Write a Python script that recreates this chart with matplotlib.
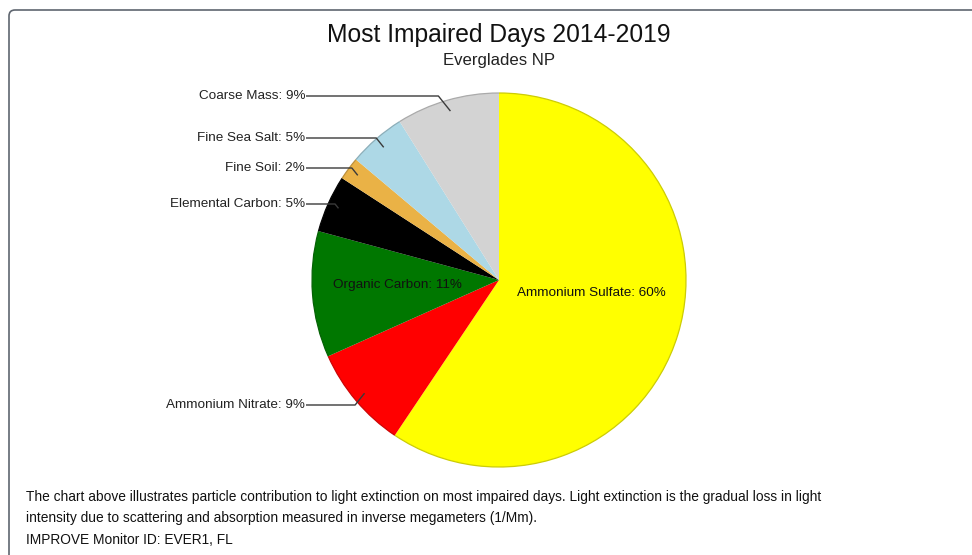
import numpy as np
import matplotlib.pyplot as plt
from matplotlib.colors import to_rgb
from matplotlib.patches import FancyBboxPatch, Arc

# Light extinction share by species, most impaired days, Everglades NP
species = ["Ammonium Sulfate", "Ammonium Nitrate", "Organic Carbon",
           "Elemental Carbon", "Fine Soil", "Fine Sea Salt", "Coarse Mass"]
percent = [60, 9, 11, 5, 2, 5, 9]
colors = ["#FFFF00", "#FF0000", "#007700", "#000000", "#EAB246", "#ADD8E6", "#D3D3D3"]

# label placement: outside labels end at x=305 (pixel rows below), inside labels centered
outside_rows = {"Coarse Mass": 96, "Fine Sea Salt": 138, "Fine Soil": 168,
                "Elemental Carbon": 204, "Ammonium Nitrate": 405}
inside_pos = {"Organic Carbon": (397, 285), "Ammonium Sulfate": (591, 293)}

W, H = 972, 555
fig = plt.figure(figsize=(W / 100, H / 100), dpi=100)
ax = fig.add_axes([0, 0, 1, 1])

font = ["Liberation Sans", "DejaVu Sans"]

cx, cy, r = 499, H - 280, 187
wedges, _ = ax.pie(percent, colors=colors, startangle=90, counterclock=False,
                   center=(cx, cy), radius=r, frame=True,
                   wedgeprops=dict(linewidth=0))
# darker rim along the outer edge of each slice
for w, c in zip(wedges, colors):
    rim = tuple(np.array(to_rgb(c)) * 0.78 + 0.02)
    ax.add_patch(Arc((cx, cy), 2 * r, 2 * r, theta1=w.theta1, theta2=w.theta2,
                     color=rim, lw=0.9))

ax.set_xlim(0, W)
ax.set_ylim(0, H)
ax.set_aspect("equal")
ax.axis("off")

# frame (left and top edges with rounded corner)
frame = FancyBboxPatch((9, -20), W + 40, H - 10 + 20,
                       boxstyle="round,pad=0,rounding_size=6",
                       fc="none", ec="#5f6670", lw=1.2)
ax.add_patch(frame)

total = sum(percent)
cum = np.cumsum([0] + percent)
for i, name in enumerate(species):
    frac = (cum[i] + percent[i] / 2) / total
    ang = np.deg2rad(90 - 360 * frac)
    label = f"{name}: {percent[i]}%"
    if name in outside_rows:
        ly = H - outside_rows[name]
        axp, ayp = cx + 0.94 * r * np.cos(ang), cy + 0.94 * r * np.sin(ang)
        ex = axp - 0.8 * abs(ly - ayp)
        ax.plot([306, ex, axp], [ly, ly, ayp], color="#3a3a3a", lw=1.0,
                solid_capstyle="butt")
        ax.text(305, ly, label, ha="right", va="center", fontsize=9.7,
                family=font, color="#222222")
    else:
        px, py = inside_pos[name]
        ax.text(px, H - py, label, ha="center", va="center", fontsize=9.7,
                family=font, color="#111111")

ax.text(499, H - 35, "Most Impaired Days 2014-2019", ha="center", va="center",
        fontsize=17.7, family=font, color="#111111")
ax.text(499, H - 60, "Everglades NP", ha="center", va="center",
        fontsize=12.1, family=font, color="#222222")

notes = ["The chart above illustrates particle contribution to light extinction on most impaired days. "
         "Light extinction is the gradual loss in light",
         "intensity due to scattering and absorption measured in inverse megameters (1/Mm).",
         "IMPROVE Monitor ID: EVER1, FL"]
for txt, y in zip(notes, [497, 518, 540]):
    ax.text(26, H - y, txt, ha="left", va="center", fontsize=9.9,
            family=font, color="#111111")

fig.savefig("out.png", dpi=100)
plt.close(fig)
